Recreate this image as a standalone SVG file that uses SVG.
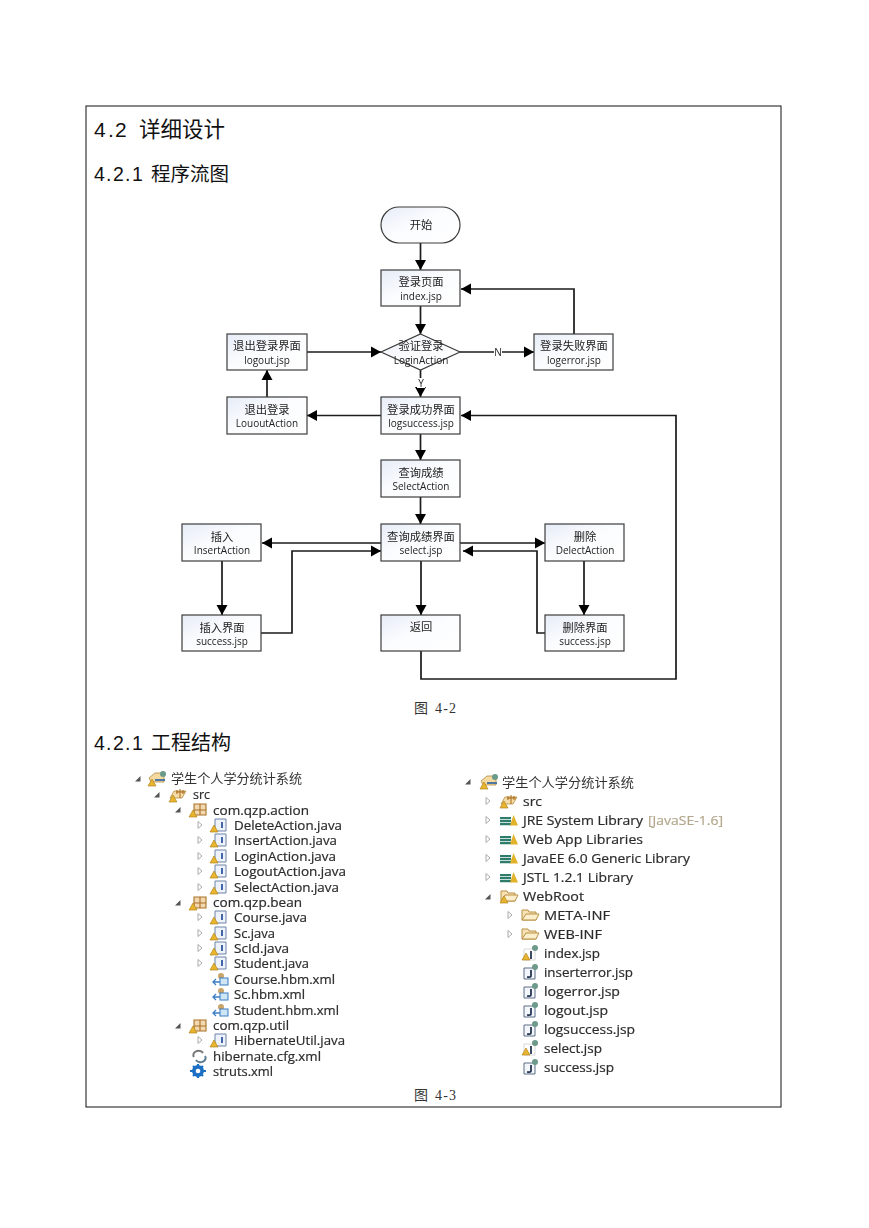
<svg xmlns="http://www.w3.org/2000/svg" width="869" height="1228" viewBox="0 0 869 1228">
<style>
.h{font-family:"Liberation Sans","Noto Sans CJK SC",sans-serif;fill:#111}
.hz{font-family:"Noto Sans CJK SC",sans-serif;fill:#111}
.cap{font-family:"Liberation Serif","Noto Sans CJK SC",serif;font-size:14px;fill:#333}
.b{fill:url(#g);stroke:#3c3c3c;stroke-width:1.2}
.c{font-family:"Noto Sans CJK SC",sans-serif;font-size:11.3px;fill:#222;text-anchor:middle}
.l{font-family:"Open Sans","Noto Sans CJK SC",sans-serif;font-size:10px;fill:#222;text-anchor:middle}
.e{fill:none;stroke:#1a1a1a;stroke-width:1.7;marker-end:url(#a)}
.t{font-family:"Open Sans","Noto Sans CJK SC",sans-serif;font-size:12.5px;fill:#2c2c2c;stroke:#2c2c2c;stroke-width:.2}
.r{font-family:"Noto Sans CJK SC",sans-serif;font-size:13px;fill:#333}
.t .tan{fill:#b3a78c;stroke:#b3a78c}
</style>
<defs>
<linearGradient id="g" x1="0" y1="0" x2="1" y2="1"><stop offset="0" stop-color="#e6ecf7"/><stop offset=".45" stop-color="#fbfcfe"/><stop offset="1" stop-color="#fff"/></linearGradient>
<marker id="a" markerUnits="userSpaceOnUse" markerWidth="11" markerHeight="12" refX="10" refY="6" orient="auto"><path d="M0 .5L10 6L0 11.500z" fill="#000"/></marker>
<filter id="s" x="-5%" y="-5%" width="110%" height="110%"><feGaussianBlur stdDeviation="0.35"/></filter>
<filter id="f" x="-5%" y="-5%" width="110%" height="110%"><feGaussianBlur stdDeviation="0.25"/></filter>
<path id="ar" d="M-3 2.500L2.500 2.500L2.500-3z" fill="#555"/>
<path id="ao" d="M-2-3.500L2 0L-2 3.500z" fill="#fff" stroke="#aaa"/>
<g id="w"><path d="M-4 7L0 0L4 7z" fill="#e9b52f" stroke="#a77a10" stroke-width=".6"/></g>
<g id="prj"><path d="M-8-1L-2-6H7V3H-6z" fill="#f4d9a0" stroke="#b08a40" stroke-width=".8"/><circle cx="6" cy="-5" r="3" fill="#6a9a8a"/><path d="M-2 1H8" stroke="#3a6ea5" stroke-width="1.800"/><use href="#w" x="-5" y="0"/></g>
<g id="srcI"><path d="M-8 3L-4-4H8L4 3z" fill="#f4dca8" stroke="#b88d3c" stroke-width=".8"/><path d="M2-6V3M-2-3H7M-1-5V-1M5-5V-1" stroke="#a86a1c" stroke-width="1" fill="none"/><use href="#w" x="-5" y="0"/></g>
<g id="pk"><path d="M-4-6H8V5H-4zM-4 0H8M2-6V5" fill="#f2d8ae" stroke="#a9702a" stroke-width="1.100"/><use href="#w" x="-5" y="0"/></g>
<g id="jf"><path d="M-4-6H7V6H-4z" fill="#eef3fb" stroke="#6d83a8"/><path d="M3-3V3" stroke="#2f56a0" stroke-width="1.800"/><use href="#w" x="-5" y="0"/></g>
<g id="hb"><path d="M-8 3H-1M-5 0L-8 3L-5 6" fill="none" stroke="#3b7fc4" stroke-width="1.300"/><circle cx="0" cy="-3" r="3" fill="#c9a56a"/><rect x="-1" y="-1" width="8" height="7" fill="#cfe6f5" stroke="#3b7fc4"/></g>
<g id="hc"><path d="M-5 1A5 4 0 0 1 4-3" fill="none" stroke="#7a7a7a" stroke-width="2"/><path d="M6 0A5 4 0 0 1-3 4" fill="none" stroke="#5b7b8f" stroke-width="2"/></g>
<g id="st"><circle r="4.500" fill="none" stroke="#1c6fc4" stroke-width="3"/><path d="M-8 0H8M0-7V7M-5-5L5 5M-5 5L5-5" stroke="#1c6fc4" stroke-width="2.200"/><circle r="2.300" fill="#fff"/></g>
<g id="lib"><path d="M-8-3H3V-.8H-8zM-8 0H3V2.200H-8zM-8 3H3V5.200H-8z" fill="#2f7d6b"/><path d="M2 5.500L5.500-5L10 5.500z" fill="#e2b22c"/></g>
<g id="fo"><path d="M-8-5H-2L-1-3H6V5H-8z" fill="#f7e2b5" stroke="#b98f45"/><path d="M-8 5L-4-1H9L6 5z" fill="#fbeecb" stroke="#b98f45"/></g>
<g id="js"><path d="M-6-4H5V7H-6z" fill="#f3f6fb" stroke="#5c6d85"/><path d="M1-2V4Q1 5.500-3 5" fill="none" stroke="#1c2c4a" stroke-width="1.700"/><circle cx="5" cy="-5" r="3" fill="#6e9a8c"/></g>
<g id="jw"><path d="M-6-4H5V7H-6z" fill="#fff" stroke="#d8d8d8"/><path d="M1-2V6" stroke="#1c2c4a" stroke-width="1.700"/><circle cx="5" cy="-5" r="3" fill="#6e9a8c"/><use href="#w" x="-4" y="0"/></g>
</defs>
<rect width="869" height="1228" fill="#fff"/>
<rect id="frame" x="86" y="106" width="695" height="1001" fill="none" stroke="#111" stroke-width="1"/>
<g id="headings">
<text class="h" y="136.500" font-size="21"><tspan x="94">4</tspan><tspan x="108">.</tspan><tspan x="115">2</tspan></text>
<text class="hz" x="139" y="136.500" font-size="21.500">详细设计</text>
<text class="h" y="181" font-size="19.500"><tspan x="94">4</tspan><tspan x="106">.</tspan><tspan x="113">2</tspan><tspan x="125">.</tspan><tspan x="132">1</tspan></text>
<text class="hz" x="151" y="181" font-size="19.500">程序流图</text>
<text class="h" y="750" font-size="19.500"><tspan x="94">4</tspan><tspan x="106">.</tspan><tspan x="113">2</tspan><tspan x="125">.</tspan><tspan x="132">1</tspan></text>
<text class="hz" x="151" y="750" font-size="20">工程结构</text>
<text class="cap" y="713"><tspan x="414">图</tspan><tspan x="435" textLength="21">4-2</tspan></text>
<text class="cap" y="1100"><tspan x="414">图</tspan><tspan x="435" textLength="21">4-3</tspan></text>
</g>
<g id="flowchart" filter="url(#f)">
<g id="connectors">
<path class="e" d="M420.500 243V270"/>
<path class="e" d="M420.500 306V334"/>
<path class="e" d="M420.500 370V397"/>
<path class="e" d="M460 352H534"/>
<path class="e" d="M307 352H381"/>
<path class="e" d="M574 334V289H461"/>
<path class="e" d="M381 415.500H307"/>
<path class="e" d="M267 397V370"/>
<path class="e" d="M420.500 434V460"/>
<path class="e" d="M420.500 497V524"/>
<path class="e" d="M381 543H262"/>
<path class="e" d="M261 633H292V551H381"/>
<path class="e" d="M460 543H545"/>
<path class="e" d="M545 633H537V551H463"/>
<path class="e" d="M222 561V615"/>
<path class="e" d="M584 561V615"/>
<path class="e" d="M421 561V615"/>
<path class="e" d="M421 651V679H676V415.500H461"/>
</g>
<g id="n-start"><rect class="b" x="381" y="207" width="79" height="36" rx="18"/><text class="c" x="421" y="229">开始</text></g>
<g id="n-index"><rect class="b" x="381" y="270" width="79" height="36"/><text class="c" x="421" y="286">登录页面</text><text class="l" x="421" y="300">index.jsp</text></g>
<g id="n-login"><path class="b" d="M420.500 334L460 352L420.500 370L381 352z"/><text class="c" x="421" y="350">验证登录</text><text class="l" x="421" y="364">LoginAction</text></g>
<g id="n-logout"><rect class="b" x="227" y="334" width="80" height="36"/><text class="c" x="267" y="350">退出登录界面</text><text class="l" x="267" y="364">logout.jsp</text></g>
<g id="n-logerror"><rect class="b" x="534" y="334" width="79" height="36"/><text class="c" x="574" y="350">登录失败界面</text><text class="l" x="574" y="364">logerror.jsp</text></g>
<g id="n-louout"><rect class="b" x="227" y="397" width="80" height="37"/><text class="c" x="267" y="414">退出登录</text><text class="l" x="267" y="427">LououtAction</text></g>
<g id="n-logsuccess"><rect class="b" x="381" y="397" width="79" height="37"/><text class="c" x="421" y="414">登录成功界面</text><text class="l" x="421" y="427">logsuccess.jsp</text></g>
<g id="n-selectaction"><rect class="b" x="381" y="460" width="79" height="37"/><text class="c" x="421" y="477">查询成绩</text><text class="l" x="421" y="490">SelectAction</text></g>
<g id="n-select"><rect class="b" x="381" y="524" width="79" height="37"/><text class="c" x="421" y="541">查询成绩界面</text><text class="l" x="421" y="554">select.jsp</text></g>
<g id="n-insert"><rect class="b" x="182" y="524" width="79" height="37"/><text class="c" x="222" y="541">插入</text><text class="l" x="222" y="554">InsertAction</text></g>
<g id="n-delete"><rect class="b" x="545" y="524" width="79" height="37"/><text class="c" x="585" y="541">删除</text><text class="l" x="585" y="554">DelectAction</text></g>
<g id="n-insok"><rect class="b" x="182" y="615" width="79" height="36"/><text class="c" x="222" y="632">插入界面</text><text class="l" x="222" y="645">success.jsp</text></g>
<g id="n-back"><rect class="b" x="381" y="615" width="79" height="36"/><text class="c" x="421" y="631">返回</text></g>
<g id="n-delok"><rect class="b" x="545" y="615" width="79" height="36"/><text class="c" x="585" y="632">删除界面</text><text class="l" x="585" y="645">success.jsp</text></g>
<g id="edge-labels">
<rect x="494" y="347" width="8" height="10" fill="#fff"/><text class="l" x="498" y="356">N</text>
<rect x="417" y="378" width="8" height="10" fill="#fff"/><text class="l" x="421" y="387" font-size="11">Y</text>
</g>
</g>
<g id="tree-left" filter="url(#s)">
<use href="#ar" x="138" y="779"/><use href="#ar" x="157" y="795"/><use href="#ar" x="178" y="810"/><use href="#ar" x="178" y="903"/><use href="#ar" x="178" y="1026"/>
<use href="#ao" x="200" y="825"/><use href="#ao" x="200" y="840"/><use href="#ao" x="200" y="856"/><use href="#ao" x="200" y="871"/><use href="#ao" x="200" y="887"/><use href="#ao" x="200" y="917"/><use href="#ao" x="200" y="933"/><use href="#ao" x="200" y="948"/><use href="#ao" x="200" y="963"/><use href="#ao" x="200" y="1040"/>
<use href="#prj" x="157" y="779"/><use href="#srcI" x="178" y="795"/><use href="#pk" x="198" y="810"/><use href="#pk" x="198" y="903"/><use href="#pk" x="198" y="1026"/>
<use href="#jf" x="219" y="825"/><use href="#jf" x="219" y="840"/><use href="#jf" x="219" y="856"/><use href="#jf" x="219" y="871"/><use href="#jf" x="219" y="887"/><use href="#jf" x="219" y="917"/><use href="#jf" x="219" y="933"/><use href="#jf" x="219" y="948"/><use href="#jf" x="219" y="963"/><use href="#jf" x="219" y="1040"/>
<use href="#hb" x="221" y="979"/><use href="#hb" x="221" y="994"/><use href="#hb" x="221" y="1010"/>
<use href="#hc" x="199" y="1056"/><use href="#st" x="198" y="1071"/>
<text class="r" x="171" y="783" textLength="131" lengthAdjust="spacingAndGlyphs">学生个人学分统计系统</text>
<g class="t" transform="translate(0 .7)">
<text x="193" y="798" textLength="17" lengthAdjust="spacingAndGlyphs">src</text>
<text x="213" y="814" textLength="96" lengthAdjust="spacingAndGlyphs">com.qzp.action</text>
<text x="234" y="829" textLength="108" lengthAdjust="spacingAndGlyphs">DeleteAction.java</text>
<text x="234" y="844" textLength="103" lengthAdjust="spacingAndGlyphs">InsertAction.java</text>
<text x="234" y="860" textLength="102" lengthAdjust="spacingAndGlyphs">LoginAction.java</text>
<text x="234" y="875" textLength="112" lengthAdjust="spacingAndGlyphs">LogoutAction.java</text>
<text x="234" y="891" textLength="105" lengthAdjust="spacingAndGlyphs">SelectAction.java</text>
<text x="213" y="906" textLength="89" lengthAdjust="spacingAndGlyphs">com.qzp.bean</text>
<text x="234" y="921" textLength="73" lengthAdjust="spacingAndGlyphs">Course.java</text>
<text x="234" y="937" textLength="41" lengthAdjust="spacingAndGlyphs">Sc.java</text>
<text x="234" y="952" textLength="55" lengthAdjust="spacingAndGlyphs">ScId.java</text>
<text x="234" y="967" textLength="75" lengthAdjust="spacingAndGlyphs">Student.java</text>
<text x="234" y="983" textLength="101" lengthAdjust="spacingAndGlyphs">Course.hbm.xml</text>
<text x="234" y="998" textLength="71" lengthAdjust="spacingAndGlyphs">Sc.hbm.xml</text>
<text x="234" y="1014" textLength="105" lengthAdjust="spacingAndGlyphs">Student.hbm.xml</text>
<text x="213" y="1029" textLength="76" lengthAdjust="spacingAndGlyphs">com.qzp.util</text>
<text x="234" y="1044" textLength="111" lengthAdjust="spacingAndGlyphs">HibernateUtil.java</text>
<text x="213" y="1060" textLength="108" lengthAdjust="spacingAndGlyphs">hibernate.cfg.xml</text>
<text x="213" y="1075" textLength="60" lengthAdjust="spacingAndGlyphs">struts.xml</text>
</g>
</g>
<g id="tree-right" filter="url(#s)">
<use href="#ar" x="468" y="782"/><use href="#ar" x="488" y="897"/>
<use href="#ao" x="488" y="801"/><use href="#ao" x="488" y="820"/><use href="#ao" x="488" y="839"/><use href="#ao" x="488" y="858"/><use href="#ao" x="488" y="877"/><use href="#ao" x="510" y="915"/><use href="#ao" x="510" y="934"/>
<use href="#prj" x="489" y="782"/><use href="#srcI" x="509" y="801"/>
<use href="#lib" x="508" y="820"/><use href="#lib" x="508" y="839"/><use href="#lib" x="508" y="858"/><use href="#lib" x="508" y="877"/>
<use href="#fo" x="509" y="896"/><use href="#w" x="504" y="896"/><use href="#fo" x="530" y="915"/><use href="#fo" x="530" y="934"/>
<use href="#jw" x="530" y="953"/><use href="#js" x="530" y="972"/><use href="#js" x="530" y="991"/><use href="#js" x="530" y="1010"/><use href="#js" x="530" y="1029"/><use href="#jw" x="530" y="1048"/><use href="#js" x="530" y="1067"/>
<text class="r" x="502" y="787" textLength="132" lengthAdjust="spacingAndGlyphs">学生个人学分统计系统</text>
<g class="t" transform="translate(0 .7)">
<text x="523" y="805" textLength="19" lengthAdjust="spacingAndGlyphs">src</text>
<text x="523" y="824" textLength="120" lengthAdjust="spacingAndGlyphs">JRE System Library</text>
<text class="tan" x="648" y="824" textLength="75" lengthAdjust="spacingAndGlyphs">[JavaSE-1.6]</text>
<text x="523" y="843" textLength="120" lengthAdjust="spacingAndGlyphs">Web App Libraries</text>
<text x="523" y="862" textLength="167" lengthAdjust="spacingAndGlyphs">JavaEE 6.0 Generic Library</text>
<text x="523" y="881" textLength="110" lengthAdjust="spacingAndGlyphs">JSTL 1.2.1 Library</text>
<text x="523" y="900" textLength="61" lengthAdjust="spacingAndGlyphs">WebRoot</text>
<text x="544" y="919" textLength="66" lengthAdjust="spacingAndGlyphs">META-INF</text>
<text x="544" y="938" textLength="58" lengthAdjust="spacingAndGlyphs">WEB-INF</text>
<text x="544" y="957" textLength="56" lengthAdjust="spacingAndGlyphs">index.jsp</text>
<text x="544" y="976" textLength="89" lengthAdjust="spacingAndGlyphs">inserterror.jsp</text>
<text x="544" y="995" textLength="76" lengthAdjust="spacingAndGlyphs">logerror.jsp</text>
<text x="544" y="1014" textLength="64" lengthAdjust="spacingAndGlyphs">logout.jsp</text>
<text x="544" y="1033" textLength="91" lengthAdjust="spacingAndGlyphs">logsuccess.jsp</text>
<text x="544" y="1052" textLength="58" lengthAdjust="spacingAndGlyphs">select.jsp</text>
<text x="544" y="1071" textLength="70" lengthAdjust="spacingAndGlyphs">success.jsp</text>
</g>
</g>
</svg>
